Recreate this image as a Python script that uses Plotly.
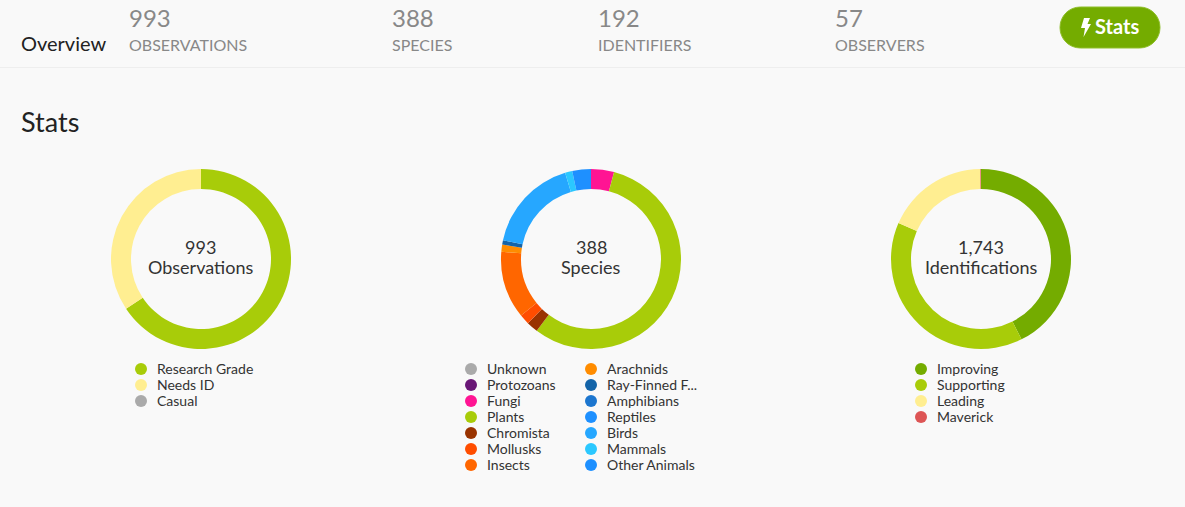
import plotly.graph_objects as go

W, H = 1185, 507
BG = '#f9f9f9'

# header stats
stat_values = ['993', '388', '192', '57']
stat_labels = ['OBSERVATIONS', 'SPECIES', 'IDENTIFIERS', 'OBSERVERS']
stat_left = [129, 392, 598, 835]

# donut 1
quality_labels = ['Research Grade', 'Needs ID', 'Casual']
quality_values = [652, 341, 0]
quality_colors = ['#a8cc09', '#ffee91', '#aaaaaa']

# donut 2
taxa_labels = ['Unknown', 'Protozoans', 'Fungi', 'Plants', 'Chromista', 'Mollusks', 'Insects',
               'Arachnids', 'Ray-Finned F...', 'Amphibians', 'Reptiles', 'Birds', 'Mammals', 'Other Animals']
taxa_values = [0, 0, 16, 218, 8, 7, 47, 5, 3, 0, 0, 66, 5, 13]
taxa_colors = ['#aaaaaa', '#691776', '#ff1493', '#a8cc09', '#993300', '#ff4d00', '#ff6600',
               '#ff8c00', '#1464a8', '#1c76cf', '#1e90ff', '#26a7ff', '#2bc8ff', '#1e90ff']

# donut 3
ident_labels = ['Improving', 'Supporting', 'Leading', 'Maverick']
ident_values = [742, 679, 320, 2]
ident_colors = ['#74ac00', '#a8cc09', '#ffee91', '#dd5555']


def px_x(x):
    return x / W


def px_y(y):
    return 1 - y / H


def label(x, y, text, size, color, anchor='left'):
    # annotations carry 2px of padding, take it back off left aligned text
    if anchor == 'left':
        x -= 2
    return dict(x=px_x(x), y=px_y(y), xref='paper', yref='paper', text=text, showarrow=False,
                xanchor=anchor, yanchor='middle', align=anchor,
                font=dict(family='Lato', size=size, color=color))


fig = go.Figure()
annotations = []
shapes = []

RADIUS = 90
CENTER_Y = 259
donuts = [
    (201, quality_labels, quality_values, quality_colors, '993', 'Observations'),
    (591, taxa_labels, taxa_values, taxa_colors, '388', 'Species'),
    (981, ident_labels, ident_values, ident_colors, '1,743', 'Identifications'),
]

for cx, labels, values, colors, total, name in donuts:
    fig.add_trace(go.Pie(
        labels=labels, values=values, hole=70 / 90, sort=False, direction='clockwise', rotation=0,
        marker=dict(colors=colors, line=dict(width=0)), textinfo='none', hoverinfo='label+value',
        showlegend=False,
        domain=dict(x=[px_x(cx - RADIUS), px_x(cx + RADIUS)],
                    y=[px_y(CENTER_Y + RADIUS), px_y(CENTER_Y - RADIUS)]),
    ))
    annotations.append(label(cx, 247, total, 18, '#333333', 'center'))
    annotations.append(label(cx, 267, name, 18, '#333333', 'center'))


def legend_block(dot_x, labels, colors):
    for i, (text, color) in enumerate(zip(labels, colors)):
        y = 369 + 16 * i
        shapes.append(dict(type='circle', xref='paper', yref='paper', layer='above',
                           x0=px_x(dot_x - 6), x1=px_x(dot_x + 6), y0=px_y(y + 6), y1=px_y(y - 6),
                           fillcolor=color, line=dict(width=0)))
        annotations.append(label(dot_x + 16, y - 1, text, 14, '#333333'))


legend_block(141, quality_labels, quality_colors)
legend_block(471, taxa_labels[:7], taxa_colors[:7])
legend_block(591, taxa_labels[7:], taxa_colors[7:])
legend_block(921, ident_labels, ident_colors)

# header
annotations.append(label(21, 43, 'Overview', 20, '#222222'))
for left, value, text in zip(stat_left, stat_values, stat_labels):
    annotations.append(label(left, 18, value, 24, '#888888'))
    annotations.append(label(left, 44, text, 16, '#888888'))
annotations.append(label(21, 121, 'Stats', 27, '#222222'))
annotations.append(label(1095, 26, '<b>Stats</b>', 20, '#ffffff'))

shapes.append(dict(type='line', xref='paper', yref='paper', x0=0, x1=1, y0=px_y(67.5), y1=px_y(67.5),
                   line=dict(color='#eeeeee', width=1)))


def path_px(points):
    return 'M ' + ' L '.join(f'{px_x(x)},{px_y(y)}' for x, y in points) + ' Z'


# button: pill drawn as a rounded path, plus the bolt icon
pill = (f'M {px_x(1080.5)},{px_y(7)} L {px_x(1139.5)},{px_y(7)} '
        f'C {px_x(1151)},{px_y(7)} {px_x(1160)},{px_y(16)} {px_x(1160)},{px_y(27.5)} '
        f'C {px_x(1160)},{px_y(39)} {px_x(1151)},{px_y(48)} {px_x(1139.5)},{px_y(48)} '
        f'L {px_x(1080.5)},{px_y(48)} '
        f'C {px_x(1069)},{px_y(48)} {px_x(1060)},{px_y(39)} {px_x(1060)},{px_y(27.5)} '
        f'C {px_x(1060)},{px_y(16)} {px_x(1069)},{px_y(7)} {px_x(1080.5)},{px_y(7)} Z')
shapes.insert(0, dict(type='path', xref='paper', yref='paper', path=pill, layer='below',
                      fillcolor='#74ac00', line=dict(color='#8fbf2a', width=1)))
shapes.append(dict(type='path', xref='paper', yref='paper', layer='above', fillcolor='#ffffff',
                   line=dict(width=0),
                   path=path_px([(1084, 18), (1090, 18), (1087.5, 24), (1091, 24), (1083.5, 37),
                                 (1085, 28), (1081, 28)])))

fig.update_layout(width=W, height=H, margin=dict(l=0, r=0, t=0, b=0), paper_bgcolor=BG,
                  plot_bgcolor=BG, annotations=annotations, shapes=shapes,
                  font=dict(family='Lato', color='#333333'))

fig.write_html('out.html', config=dict(displayModeBar=False),
               post_script="document.body.style.margin='0';document.body.style.overflow='hidden';")
